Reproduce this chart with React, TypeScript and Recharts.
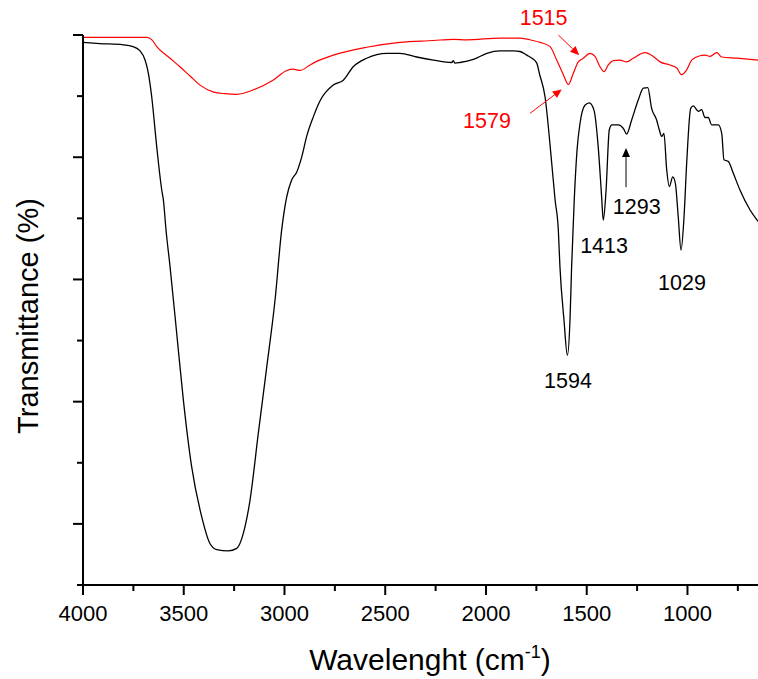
import { LineChart, Line, XAxis, YAxis, ReferenceDot, ReferenceLine } from 'recharts';

// wavenumber (cm-1) / transmittance pairs
const blackWn = [
  4000, 3916, 3801, 3752, 3717, 3692, 3676, 3659, 3634, 3609, 3601, 3588, 3568, 3535, 3502, 3461,
  3411, 3370, 3336, 3279, 3237, 3204, 3171, 3130, 3088, 3047, 3014, 2989, 2964, 2939, 2914, 2890,
  2857, 2824, 2758, 2708, 2659, 2592, 2493, 2427, 2344, 2261, 2170, 2162, 2154, 2129, 2063, 1996,
  1930, 1864, 1831, 1798, 1772, 1748, 1735, 1707, 1674, 1657, 1641, 1633, 1613, 1596, 1583, 1575,
  1562, 1548, 1533, 1509, 1487, 1464, 1443, 1426, 1418, 1404, 1388, 1375, 1360, 1343, 1318, 1302,
  1277, 1244, 1219, 1197, 1178, 1153, 1140, 1128, 1117, 1103, 1090, 1073, 1060, 1046, 1032, 1017,
  1004, 984, 971, 946, 930, 913, 897, 880, 847, 830, 819, 797, 773, 739, 690, 650,
];
const blackT = [
  88.8, 88.6, 88.4, 88.1, 87.4, 85.9, 83.8, 79.9, 71.7, 64.6, 63.0, 58.1, 52.1, 41.2, 30.3, 19.4,
  11.2, 6.8, 5.8, 5.6, 6.0, 8.5, 13.9, 24.8, 35.7, 46.6, 58.1, 63.5, 66.3, 67.6, 70.1, 73.4,
  76.6, 79.2, 81.8, 82.6, 84.8, 86.2, 87.0, 87.0, 86.4, 85.9, 85.5, 85.8, 85.4, 85.5, 86.0, 87.0,
  87.4, 87.4, 87.3, 86.7, 86.2, 85.4, 83.7, 79.9, 69.1, 63.0, 58.1, 52.1, 43.4, 37.6, 43.4, 52.1,
  63.0, 71.2, 75.6, 78.5, 78.9, 77.7, 71.7, 63.5, 59.7, 64.6, 74.5, 75.3, 75.3, 75.3, 74.7, 73.8,
  76.1, 79.4, 81.3, 81.4, 78.0, 76.1, 74.5, 73.4, 73.9, 67.9, 65.2, 66.8, 65.7, 60.3, 54.8, 60.3,
  69.0, 78.0, 78.4, 77.5, 77.8, 76.5, 76.5, 75.3, 75.3, 73.9, 69.6, 69.3, 67.4, 64.6, 61.4, 59.5,
];

const redWn = [
  4000, 3684, 3658, 3634, 3568, 3519, 3469, 3419, 3355, 3295, 3237, 3156, 3057, 2988, 2958, 2923,
  2873, 2857, 2758, 2592, 2427, 2261, 2162, 2096, 1930, 1831, 1767, 1732, 1682, 1649, 1616, 1591,
  1567, 1542, 1517, 1484, 1459, 1434, 1414, 1393, 1368, 1335, 1302, 1269, 1211, 1170, 1136, 1087,
  1053, 1029, 1004, 979, 938, 913, 888, 855, 830, 756, 650,
];
const redT = [
  89.6, 89.6, 89.2, 88.1, 86.2, 84.8, 83.3, 81.8, 80.7, 80.4, 80.3, 81.0, 82.6, 84.2, 84.4, 84.2,
  85.1, 85.4, 86.7, 88.0, 88.8, 89.1, 89.3, 89.2, 89.5, 89.5, 89.1, 88.8, 88.1, 85.9, 83.5, 81.9,
  83.7, 85.6, 86.2, 87.0, 86.5, 84.8, 84.0, 85.1, 85.8, 85.9, 85.6, 86.2, 87.1, 86.5, 85.6, 85.1,
  84.6, 83.5, 84.3, 85.9, 86.6, 86.7, 86.5, 87.1, 86.4, 86.2, 85.9,
];

const xTicks = [4000, 3750, 3500, 3250, 3000, 2750, 2500, 2250, 2000, 1750, 1500, 1250, 1000, 750];
const yTicks = [0, 10, 20, 30, 40, 50, 60, 70, 80, 90];

// peak labels: text, position (wn, T), colour
const peakLabels = [
  { text: '1515', wn: 1714, t: 91.6, color: '#ff0000' },
  { text: '1579', wn: 1995, t: 74.8, color: '#ff0000' },
  { text: '1594', wn: 1593, t: 32.2, color: '#000' },
  { text: '1413', wn: 1414, t: 54.3, color: '#000' },
  { text: '1293', wn: 1252, t: 60.7, color: '#000' },
  { text: '1029', wn: 1027, t: 48.3, color: '#000' },
];
const arrows = [
  { from: [1641, 90.0], to: [1537, 86.7], color: '#ff0000' },
  { from: [1781, 77.2], to: [1624, 81.1], color: '#ff0000' },
  { from: [1305, 65.1], to: [1305, 71.5], color: '#000' },
];

const FONT = 'Arial, "Liberation Sans", sans-serif';

const toPoints = (wn: number[], t: number[]) => wn.map((w, i) => ({ wn: w, t: t[i] }));
const blackData = toPoints(blackWn, blackT);
const redData = toPoints(redWn, redT);

const XTick = (props: any) => {
  const { x, y, payload } = props;
  const major = payload.value % 500 === 0;
  return (
    <g>
      <line x1={x} y1={y} x2={x} y2={y + (major ? 10 : 6)} stroke='#000' strokeWidth={2} />
      {major && (
        <text x={x} y={y + 36} textAnchor='middle' fontSize={22} fontFamily={FONT} fill='#000'>
          {payload.value}
        </text>
      )}
    </g>
  );
};

const YTick = (props: any) => {
  const { x, y, payload } = props;
  const major = payload.value % 20 === 10;
  return <line x1={x} y1={y} x2={x - (major ? 10 : 6)} y2={y} stroke='#000' strokeWidth={2} />;
};

const Arrow = (color: string) => (props: any) => {
  const { x1, y1, x2, y2 } = props;
  const a = Math.atan2(y2 - y1, x2 - x1);
  const len = 9;
  const w = 4;
  const bx = x2 - len * Math.cos(a);
  const by = y2 - len * Math.sin(a);
  const px = -Math.sin(a) * w;
  const py = Math.cos(a) * w;
  return (
    <g>
      <line x1={x1} y1={y1} x2={bx} y2={by} stroke={color} strokeWidth={1} />
      <polygon points={`${x2},${y2} ${bx + px},${by + py} ${bx - px},${by - py}`} fill={color} />
    </g>
  );
};

const PeakText = (text: string, color: string) => (props: any) => (
  <text x={props.cx} y={props.cy} textAnchor='middle' fontSize={21.5} fontFamily={FONT} fill={color}>
    {text}
  </text>
);

export default function App() {
  return (
    <div>
      <style>{'body{margin:0}'}</style>
      <LineChart width={758} height={679} margin={{ top: 35, right: 0, left: 0, bottom: 0 }}>
        <XAxis
          type='number'
          dataKey='wn'
          domain={[650, 4000]}
          reversed
          allowDataOverflow
          ticks={xTicks}
          interval={0}
          height={94}
          tickSize={0}
          tickMargin={0}
          tickLine={false}
          tick={<XTick />}
          axisLine={{ stroke: '#000', strokeWidth: 2 }}
          label={{
            content: () => (
              <text x={430} y={670} textAnchor='middle' fontSize={30} fontFamily={FONT} fill='#000'>
                Wavelenght (cm
                <tspan fontSize={18} dy={-12}>-1</tspan>
                <tspan dy={12}>)</tspan>
              </text>
            ),
          }}
        />
        <YAxis
          type='number'
          domain={[0, 90]}
          ticks={yTicks}
          interval={0}
          width={83}
          tickSize={0}
          tickMargin={0}
          tickLine={false}
          tick={<YTick />}
          axisLine={{ stroke: '#000', strokeWidth: 2 }}
          label={{
            content: () => (
              <text
                x={38}
                y={316}
                transform='rotate(-90 38 316)'
                textAnchor='middle'
                fontSize={29}
                fontFamily={FONT}
                fill='#000'
              >
                Transmittance (%)
              </text>
            ),
          }}
        />
        <Line
          data={redData}
          dataKey='t'
          type='monotone'
          stroke='#ff0000'
          strokeWidth={1.2}
          dot={false}
          isAnimationActive={false}
        />
        <Line
          data={blackData}
          dataKey='t'
          type='monotone'
          stroke='#000'
          strokeWidth={1.3}
          dot={false}
          isAnimationActive={false}
        />
        {arrows.map((ar, i) => (
          <ReferenceLine
            key={`arrow-${i}`}
            segment={[
              { x: ar.from[0], y: ar.from[1] },
              { x: ar.to[0], y: ar.to[1] },
            ]}
            ifOverflow='visible'
            shape={Arrow(ar.color)}
          />
        ))}
        {peakLabels.map((p) => (
          <ReferenceDot
            key={p.text}
            x={p.wn}
            y={p.t}
            r={0}
            ifOverflow='visible'
            shape={PeakText(p.text, p.color)}
          />
        ))}
      </LineChart>
    </div>
  );
}
